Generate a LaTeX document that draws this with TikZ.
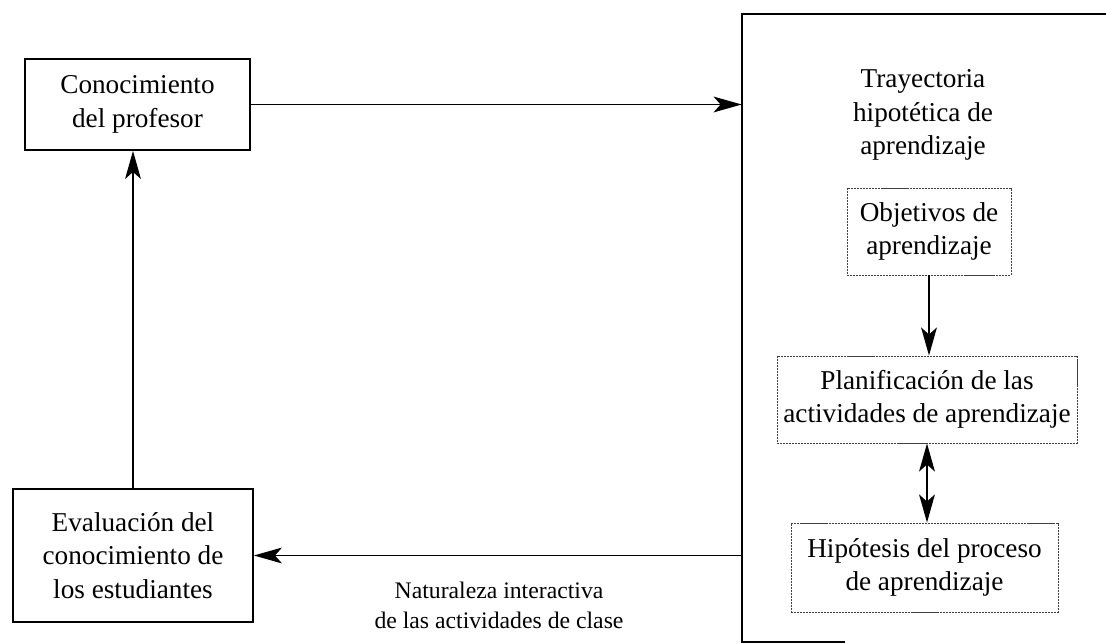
\documentclass[tikz,border=0pt]{standalone}
\usepackage{fontspec}
\setmainfont{Liberation Serif}
\usepackage{tikz}
\usetikzlibrary{arrows.meta}

\begin{document}
\begin{tikzpicture}[x=0.02cm,y=-0.02cm,
    box/.style={draw, line width=1pt, inner sep=0pt, align=center,
        font=\fontsize{15.5}{19}\selectfont},
    dbox/.style={box, draw=black!75, line width=0.5pt,
        dash pattern=on 1.2pt off 0.5pt},
    arr/.style={line width=1pt, -{Stealth[length=16pt,width=9pt,inset=4pt]}},
    darr/.style={line width=1pt,
        {Stealth[length=16pt,width=9pt,inset=4pt]}-{Stealth[length=16pt,width=9pt,inset=4pt]}}]

            \useasboundingbox (0,0) rectangle (1106,644);

            % left column
            \node [box, minimum width=4.5cm, minimum height=1.82cm]
                (prof) at (137.5,104.5) {Conocimiento\\del profesor};
            \node [box, minimum width=4.8cm, minimum height=2.66cm]
                (eval) at (133,555.5) {Evaluación del\\conocimiento de\\los estudiantes};

            % hypothetical learning trajectory
            \node [inner sep=0pt, minimum width=7.28cm, minimum height=12.56cm]
                (hlt) at (924,328) {};
            \draw [line width=1pt] (hlt.north east) -- (hlt.north west)
                -- (hlt.south west) -- ++(103,0);
            \node [align=center, font=\fontsize{15.5}{19}\selectfont]
                (tray) at (923,115) {Trayectoria\\hipotética de\\aprendizaje};
            \node [dbox, minimum width=3.28cm, minimum height=1.74cm]
                (obj) at (929,231.5) {Objetivos de\\aprendizaje};
            \node [dbox, minimum width=6cm, minimum height=1.74cm]
                (plan) at (927,399.5) {Planificación de las\\actividades de aprendizaje};
            \node [dbox, minimum width=5.34cm, minimum height=1.78cm]
                (hip) at (924.5,567.5) {Hipótesis del proceso\\de aprendizaje};

            \draw [arr] (prof.east) -- (prof.east -| hlt.west);
            \draw [arr] (eval.north) -- (eval.north |- prof.south);
            \draw [arr] (obj.south) -- (obj.south |- plan.north);
            \draw [darr] (plan.south) -- (plan.south |- hip.north);
            \draw [arr] (eval.east -| hlt.west) -- (eval.east);

            \node [align=center, font=\fontsize{13.5}{17}\selectfont]
                (nat) at (499,605) {Naturaleza interactiva\\de las actividades de clase};
        \end{tikzpicture}
\end{document}
